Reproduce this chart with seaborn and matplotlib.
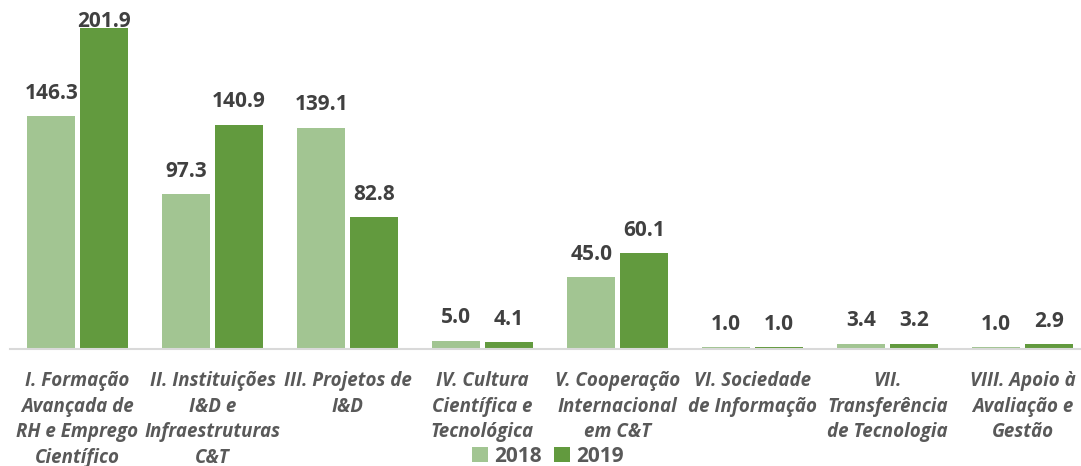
import matplotlib
matplotlib.use("Agg")
import matplotlib.pyplot as plt
import seaborn as sns
import pandas as pd
from matplotlib.patches import Patch

categories = [
    "I. Formação\nAvançada de\nRH e Emprego\nCientífico",
    "II. Instituições\nI&D e\nInfraestruturas\nC&T",
    "III. Projetos de\nI&D",
    "IV. Cultura\nCientífica e\nTecnológica",
    "V. Cooperação\nInternacional\nem C&T",
    "VI. Sociedade\nde Informação",
    "VII.\nTransferência\nde Tecnologia",
    "VIII. Apoio à\nAvaliação e\nGestão",
]
values_2018 = [146.3, 97.3, 139.1, 5.0, 45.0, 1.0, 3.4, 1.0]
values_2019 = [201.9, 140.9, 82.8, 4.1, 60.1, 1.0, 3.2, 2.9]
years = ["2018", "2019"]

df = pd.DataFrame({
    "categoria": categories * 2,
    "valor": values_2018 + values_2019,
    "ano": [years[0]] * len(categories) + [years[1]] * len(categories),
})

sns.set_theme(style="white")
plt.rcParams["font.family"] = ["Open Sans", "DejaVu Sans"]

colors = {"2018": "#a2c592", "2019": "#629a3e"}
label_color = "#404040"
text_color = "#595959"

fig = plt.figure(figsize=(10.81, 4.66), dpi=100)
ax = fig.add_axes([10 / 1081, 117 / 466, 1071 / 1081, 349 / 466])

sns.barplot(data=df, x="categoria", y="valor", hue="ano", palette=colors,
            width=0.78, gap=0.09, dodge=True, legend=False, ax=ax,
            saturation=1, edgecolor="none")

ymax = 219.5
ax.set_ylim(0, ymax)
ax.set_xlim(-0.5, 7.5 - 9 / 135)

# value labels above each bar
for container in ax.containers:
    for bar in container:
        h = bar.get_height()
        y = min(h + 8, ymax - 20)
        ax.text(bar.get_x() + bar.get_width() / 2, y, f"{h:.1f}",
                ha="center", va="bottom", fontsize=15, fontweight="bold",
                color=label_color)

ax.set_xlabel("")
ax.set_ylabel("")
ax.set_yticks([])
for side in ["top", "right", "left"]:
    ax.spines[side].set_visible(False)
ax.spines["bottom"].set_color("#d9d9d9")
ax.spines["bottom"].set_linewidth(1.5)
ax.tick_params(axis="x", length=0, pad=16)
for lbl in ax.get_xticklabels():
    lbl.set_fontsize(13.5)
    lbl.set_fontstyle("italic")
    lbl.set_fontweight("bold")
    lbl.set_color(text_color)
    lbl.set_linespacing(1.37)
    lbl.set_va("top")

handles = [Patch(facecolor=colors[y], edgecolor="none") for y in years]
fig.legend(handles, years, loc="center", bbox_to_anchor=(548 / 1081, 1 - 456 / 466),
           ncol=2, frameon=False, handlelength=0.75, handleheight=0.75,
           handletextpad=0.3, columnspacing=0.6,
           prop={"size": 15, "weight": "bold"}, labelcolor=text_color)

fig.savefig("out.png", dpi=100)
